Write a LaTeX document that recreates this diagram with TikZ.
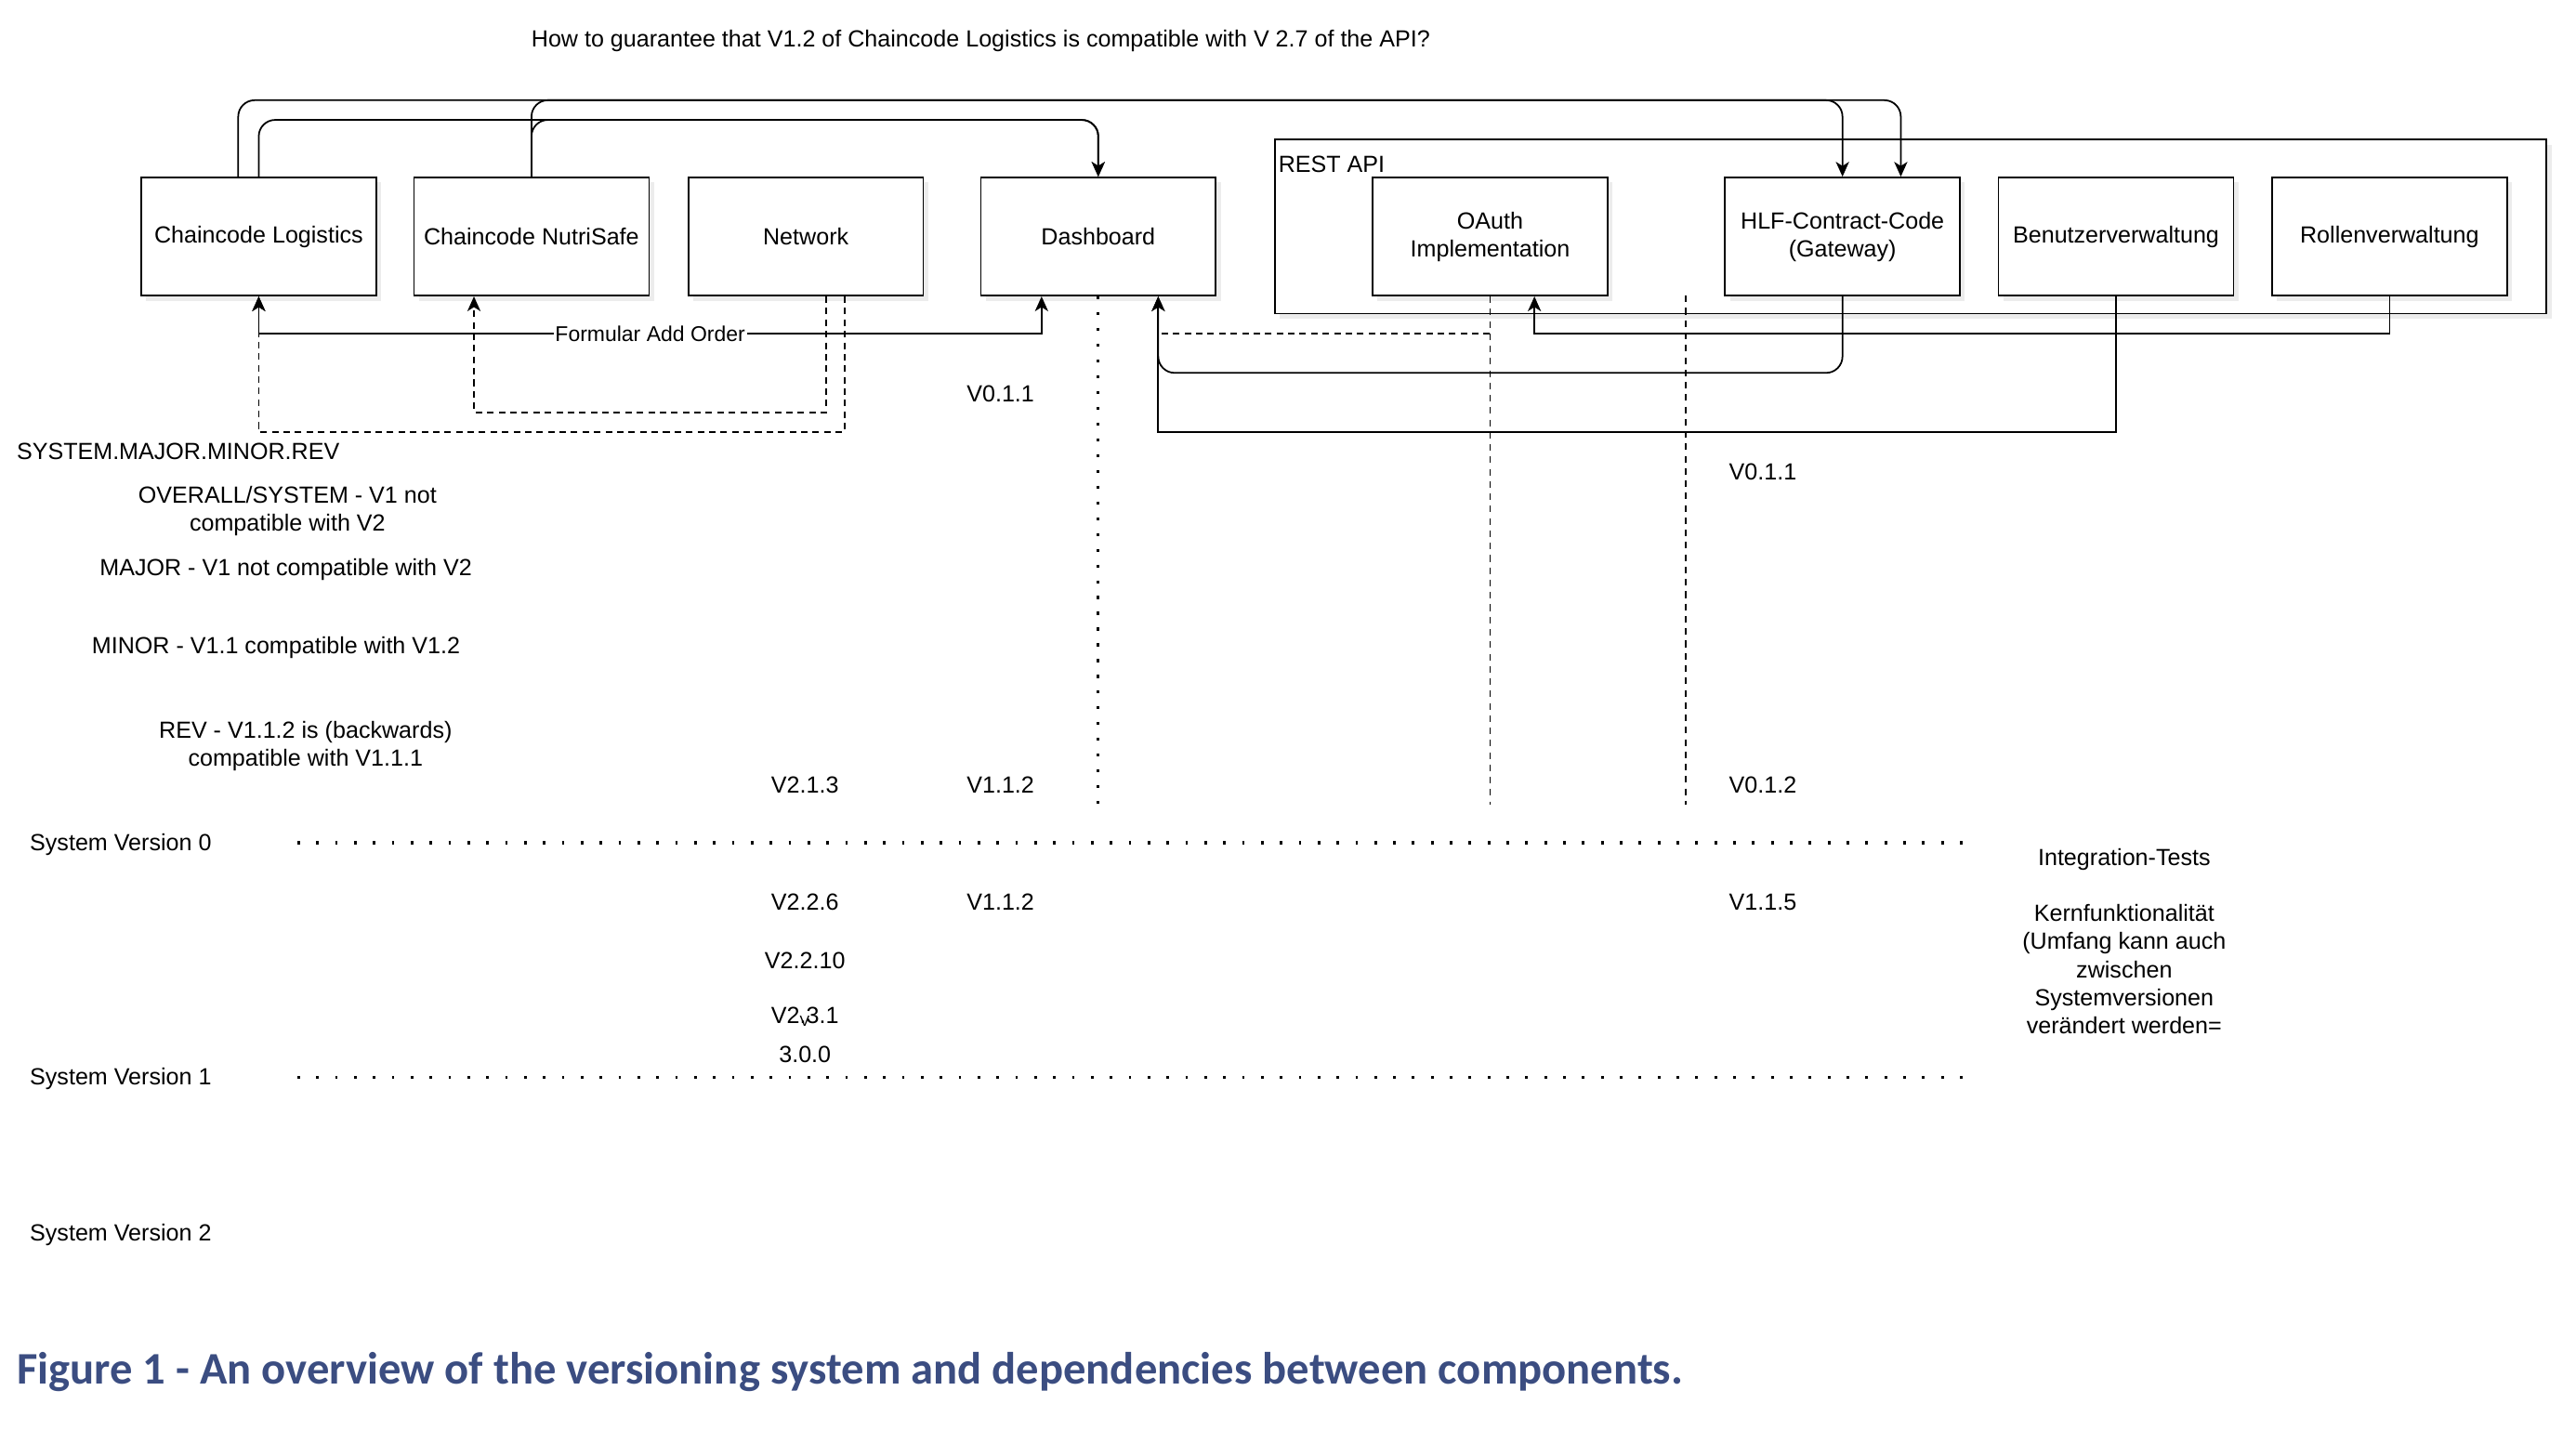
\documentclass[tikz,border=0pt]{standalone}
\usepackage{fontspec}
\setmainfont{Liberation Sans}
\newfontfamily\captionfont{Carlito}
\usetikzlibrary{arrows.meta,positioning,shadows}
\definecolor{capblue}{RGB}{59,77,129}

\begin{document}
\begin{tikzpicture}[x=1pt,y=-1pt,
  font=\fontsize{14.2}{17}\selectfont,
  >={Stealth[length=9pt,width=8pt,inset=2.5pt]},
  comp/.style={rectangle,draw,line width=0.9pt,fill=white,minimum width=143pt,minimum height=72pt,inner sep=2pt,align=center,drop shadow={opacity=0.15,shadow xshift=3pt,shadow yshift=-3pt}},
  group/.style={rectangle,draw,line width=0.9pt,fill=white,minimum width=774pt,minimum height=106pt,drop shadow={opacity=0.15,shadow xshift=3pt,shadow yshift=-3pt}},
  link/.style={->,line width=1pt},
  dual/.style={<->,line width=1pt},
  dep/.style={line width=1pt,dash pattern=on 4pt off 3pt},
  lifeline/.style={line width=0.9pt,dash pattern=on 4pt off 3.5pt},
  dotline/.style={line width=1.8pt,dash pattern=on 1.8pt off 7.8pt},
  sysline/.style={line width=1.9pt,dash pattern=on 1.6pt off 9.9pt},
  txt/.style={inner sep=0pt,align=center},
  ver/.style={inner sep=0pt},
  flabel/.style={fill=white,inner sep=1pt,font=\fontsize{13}{15}\selectfont}]
  \useasboundingbox (0,0) rectangle (1568,870);

  \node[txt] (question) at (597,25) {How to guarantee that V1.2 of Chaincode Logistics is compatible with V 2.7 of the API?};

  % components
  \node[group] (restapi) at (1163,138) {};
  \node[anchor=west,inner sep=0pt] (restlbl) at (778,100) {REST API};
  \node[comp] (logistics) at (157.5,144) {Chaincode Logistics};
  \node[comp] (nutrisafe) at (323.5,144) {Chaincode NutriSafe};
  \node[comp] (network) at (490.5,144) {Network};
  \node[comp] (dashboard) at (668.5,144) {Dashboard};
  \node[comp] (oauth) at (907,144) {OAuth\\Implementation};
  \node[comp] (hlf) at (1121.5,144) {HLF-Contract-Code\\(Gateway)};
  \node[comp] (benutzer) at (1288,144) {Benutzerverwaltung};
  \node[comp] (rollen) at (1454.5,144) {Rollenverwaltung};

  % rails and ports
  \coordinate (highrail) at (0,61);
  \coordinate (lowrail) at (0,73);
  \coordinate (formrail) at (0,203);
  \coordinate (hlfrail) at (0,227);
  \coordinate (deprail1) at (0,251);
  \coordinate (deprail2) at (0,263);
  \coordinate (lifeend) at (0,490);
  \coordinate (apitop) at (1026,180);
  \coordinate (logout2) at ([xshift=-12.5pt]logistics.north);
  \coordinate (hlfin2) at ([xshift=35.5pt]hlf.north);
  \coordinate (dashin1) at ([xshift=-34.5pt]dashboard.south);
  \coordinate (dashin2) at ([xshift=36.5pt]dashboard.south);
  \coordinate (nutriin) at ([xshift=-35pt]nutrisafe.south);
  \coordinate (netout1) at ([xshift=12.5pt]network.south);
  \coordinate (netout2) at ([xshift=23.5pt]network.south);
  \coordinate (oauthin) at ([xshift=27pt]oauth.south);

  % dependencies over the top
  \draw[link,rounded corners=10pt] (logout2) |- (hlfin2 |- highrail) -- (hlfin2);
  \draw[link,rounded corners=10pt] (nutrisafe.north) |- (hlf.north |- highrail) -- (hlf.north);
  \draw[link,rounded corners=10pt] (nutrisafe.north) |- (dashboard.north |- lowrail) -- (dashboard.north);
  \draw[link,rounded corners=10pt] (logistics.north) |- (dashboard.north |- lowrail) -- (dashboard.north);

  % dependencies below
  \draw[dep,->] (netout1) -- (netout1 |- deprail1) -| (nutriin);
  \draw[dep,->] (netout2) -- (netout2 |- deprail2) -| (logistics.south);
  \draw[dual] (logistics.south) -- (logistics.south |- formrail) -- node[flabel] {Formular Add Order} (dashin1 |- formrail) -- (dashin1);
  \draw[dep] (oauth.south |- formrail) -- (dashin2 |- formrail);
  \draw[link,rounded corners=10pt] (hlf.south) |- (dashin2 |- hlfrail) -- (dashin2);
  \draw[link] (benutzer.south) |- (dashin2 |- deprail2) -- (dashin2);
  \draw[link] (rollen.south) |- (oauthin |- formrail) -- (oauthin);

  % lifelines
  \draw[dotline] (dashboard.south) -- (dashboard.south |- lifeend);
  \draw[lifeline] (oauth.south) -- (oauth.south |- lifeend);
  \draw[lifeline] (apitop) -- (apitop |- lifeend);

  % versioning scheme
  \node[anchor=west,inner sep=0pt] (scheme) at (10,275) {SYSTEM.MAJOR.MINOR.REV};
  \node[txt] (overall) at (175,311) {OVERALL/SYSTEM - V1 not\\compatible with V2};
  \node[txt] (major) at (174,347) {MAJOR - V1 not compatible with V2};
  \node[txt] (minor) at (168,394) {MINOR - V1.1 compatible with V1.2};
  \node[txt] (rev) at (186,454) {REV - V1.1.2 is (backwards)\\compatible with V1.1.1};

  % system versions
  \node[anchor=west,inner sep=0pt] (sys0) at (18,514) {System Version 0};
  \node[anchor=west,inner sep=0pt] (sys1) at (18,657) {System Version 1};
  \node[anchor=west,inner sep=0pt] (sys2) at (18,752) {System Version 2};
  \draw[sysline] (181,513) -- (1195,513);
  \draw[sysline] (181,656) -- (1195,656);

  % versions
  \node[ver] (v011a) at (609,240) {V0.1.1};
  \node[ver] (v011b) at (1073,287) {V0.1.1};
  \node[ver] (v213) at (490,478) {V2.1.3};
  \node[ver] (v112a) at (609,478) {V1.1.2};
  \node[ver] (v012) at (1073,478) {V0.1.2};
  \node[ver] (v226) at (490,549) {V2.2.6};
  \node[ver] (v112b) at (609,549) {V1.1.2};
  \node[ver] (v115) at (1073,549) {V1.1.5};
  \node[ver] (v2210) at (490,585) {V2.2.10};
  \node[ver] (v231) at (490,619) {V2\rlap{\raisebox{-1.5pt}{\small V}}.3.1};
  \node[ver] (v300) at (490,642) {3.0.0};

  % tests
  \node[txt] (integ) at (1293,523) {Integration-Tests};
  \node[txt] (kern) at (1293,590) {Kernfunktionalität\\(Umfang kann auch\\zwischen\\Systemversionen\\verändert werden=};

  \node[anchor=west,inner sep=0pt,text=capblue,font=\captionfont\bfseries\fontsize{27.5}{31}\selectfont] (caption) at (10,835) {Figure 1 - An overview of the versioning system and dependencies between components.};
\end{tikzpicture}
\end{document}
